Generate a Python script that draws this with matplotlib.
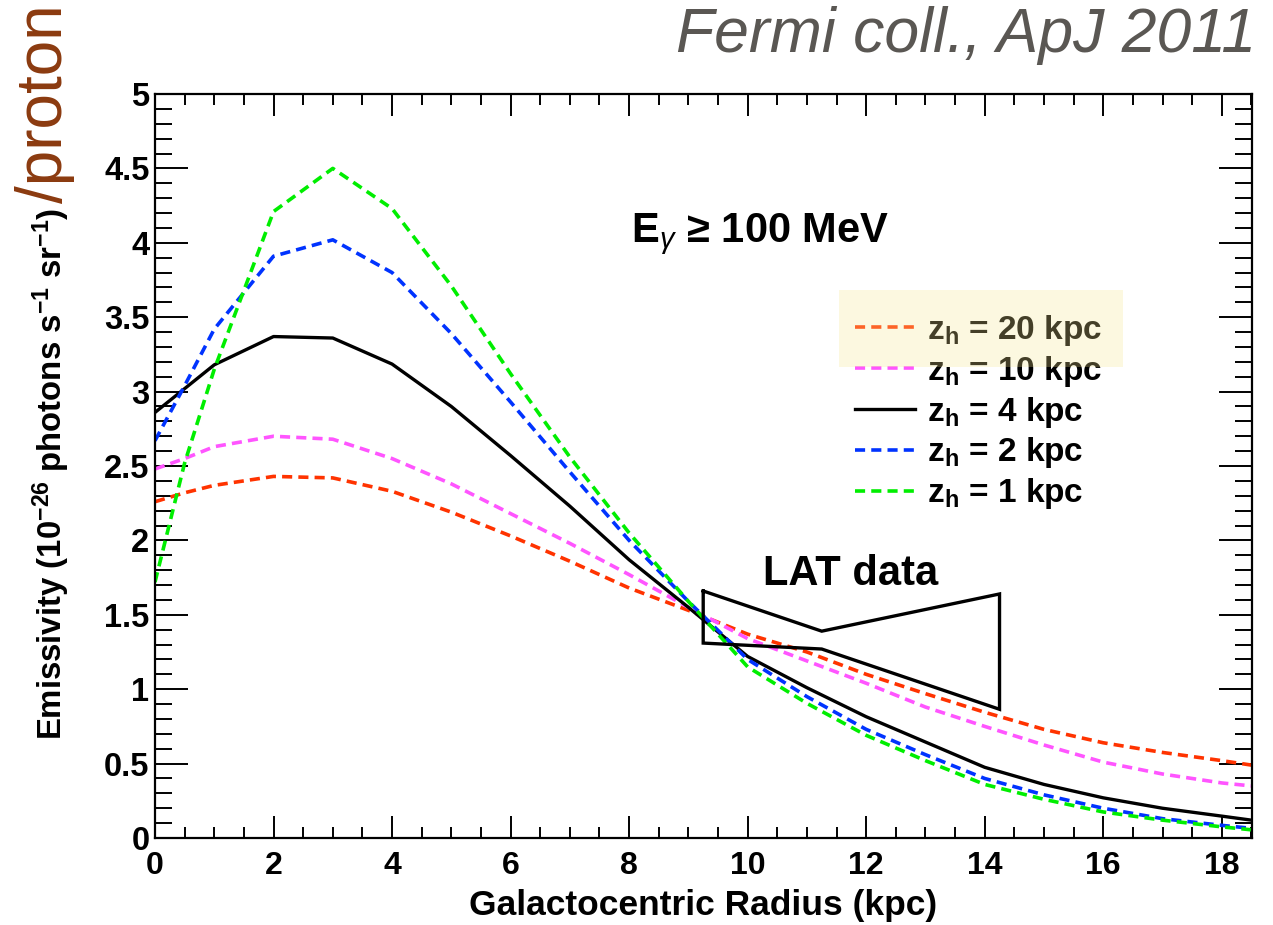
import matplotlib
matplotlib.use('Agg')
import matplotlib.pyplot as plt
from matplotlib.ticker import MultipleLocator, FuncFormatter
from matplotlib.patches import Rectangle

plt.rcParams['font.family'] = ['Liberation Sans', 'DejaVu Sans']
plt.rcParams['mathtext.fontset'] = 'custom'
plt.rcParams['mathtext.rm'] = 'Liberation Sans'
plt.rcParams['mathtext.it'] = 'Liberation Sans:italic'
plt.rcParams['mathtext.bf'] = 'Liberation Sans:bold'

# ---------------- data ----------------
radius = [0, 0.5, 1, 2, 3, 4, 5, 6, 7, 8, 9, 10, 11, 12, 13, 14, 15, 16, 17, 18, 18.5]
emis_z20 = [2.26, 2.32, 2.37, 2.43, 2.42, 2.33, 2.19, 2.03, 1.86, 1.68, 1.53, 1.37, 1.25, 1.10,
            0.97, 0.845, 0.73, 0.64, 0.575, 0.52, 0.49]
emis_z10 = [2.48, 2.55, 2.63, 2.70, 2.68, 2.55, 2.38, 2.18, 1.98, 1.77, 1.55, 1.34, 1.19, 1.04,
            0.88, 0.75, 0.625, 0.51, 0.43, 0.37, 0.35]
emis_z4 = [2.86, 3.02, 3.18, 3.37, 3.36, 3.185, 2.90, 2.57, 2.23, 1.87, 1.55, 1.22, 1.01, 0.815,
           0.645, 0.475, 0.36, 0.27, 0.20, 0.147, 0.12]
emis_z2 = [2.67, 3.04, 3.42, 3.91, 4.02, 3.80, 3.39, 2.93, 2.46, 2.00, 1.59, 1.20, 0.95, 0.73,
           0.56, 0.40, 0.29, 0.20, 0.13, 0.085, 0.065]
emis_z1 = [1.72, 2.52, 3.15, 4.21, 4.50, 4.23, 3.71, 3.12, 2.56, 2.05, 1.59, 1.15, 0.905, 0.69,
           0.52, 0.36, 0.26, 0.175, 0.12, 0.075, 0.055]

series_labels = [r'$\mathbf{z}_\mathbf{h}$ = 20 kpc', r'$\mathbf{z}_\mathbf{h}$ = 10 kpc',
                 r'$\mathbf{z}_\mathbf{h}$ = 4 kpc', r'$\mathbf{z}_\mathbf{h}$ = 2 kpc',
                 r'$\mathbf{z}_\mathbf{h}$ = 1 kpc']
series_values = [emis_z20, emis_z10, emis_z4, emis_z2, emis_z1]
series_colors = ['#FF3300', '#FF55FF', '#000000', '#0033FF', '#00EE00']
series_dashed = [True, True, False, True, True]

# LAT data bow-tie
lat_r = [9.25, 11.25, 14.25, 14.25, 11.25, 9.25, 9.25]
lat_e = [1.66, 1.39, 1.64, 0.865, 1.27, 1.31, 1.66]

x_ticks = [0, 2, 4, 6, 8, 10, 12, 14, 16, 18]
y_ticks = [0, 0.5, 1, 1.5, 2, 2.5, 3, 3.5, 4, 4.5, 5]

# ---------------- figure ----------------
W, H = 1273, 925
fig = plt.figure(figsize=(W / 100, H / 100), dpi=100)


def fx(px):
    return px / W


def fy(py):
    return 1 - py / H


ax = fig.add_axes([fx(155), fy(838), (1252 - 155) / W, (838 - 94) / H])

handles = []
for vals, lab, col, dashed in zip(series_values, series_labels, series_colors, series_dashed):
    if dashed:
        ln, = ax.plot(radius, vals, color=col, lw=2.6, dashes=(2.8, 1.7), label=lab)
    else:
        ln, = ax.plot(radius, vals, color=col, lw=2.4, label=lab)
    handles.append(ln)

ax.plot(lat_r, lat_e, color='k', lw=2.4, solid_joinstyle='miter')

ax.set_xlim(0, 18.51)
ax.set_ylim(0, 5)
ax.set_xticks(x_ticks)
ax.set_yticks(y_ticks)
ax.xaxis.set_minor_locator(MultipleLocator(0.5))
ax.yaxis.set_minor_locator(MultipleLocator(0.1))
ax.xaxis.set_major_formatter(FuncFormatter(lambda v, p: '%g' % v))
ax.yaxis.set_major_formatter(FuncFormatter(lambda v, p: '%g' % v))

for s in ax.spines.values():
    s.set_linewidth(1.6)

ax.tick_params(axis='both', which='both', direction='in', top=True, right=True, width=1.4)
ax.tick_params(axis='x', which='major', length=15.8, pad=9, labelsize=23)
ax.tick_params(axis='x', which='minor', length=7.9)
ax.tick_params(axis='y', which='major', length=23.8, pad=4, labelsize=23.5)
ax.tick_params(axis='y', which='minor', length=12.2)
for lab in ax.get_xticklabels() + ax.get_yticklabels():
    lab.set_fontweight('bold')

# legend
leg = ax.legend(handles=handles, loc='upper left', bbox_to_anchor=(fx(855), fy(313)),
                bbox_transform=fig.transFigure, frameon=False, borderpad=0, borderaxespad=0,
                handlelength=1.8, handletextpad=0.36, labelspacing=0.175,
                prop={'weight': 'bold', 'size': 24})

# highlight box over the first legend entry
fig.add_artist(Rectangle((fx(839), fy(367)), (1123 - 839) / W, (367 - 290) / H,
                         transform=fig.transFigure, facecolor='#F5E690', alpha=0.28,
                         edgecolor='none', zorder=10))

# annotations
fig.text(fx(760), fy(241.7), r'E$_{\gamma}$ ≥ 100 MeV', ha='center', va='baseline',
         fontsize=30, fontweight='bold')
fig.text(fx(851), fy(585), 'LAT data', ha='center', va='baseline', fontsize=30, fontweight='bold')

# title
fig.text(fx(1256), fy(52), 'Fermi coll., ApJ 2011', ha='right', va='baseline', fontsize=45,
         style='italic', color='#5A5753')

# axis labels
fig.text(fx(703), fy(915), 'Galactocentric Radius (kpc)', ha='center', va='baseline',
         fontsize=25.5, fontweight='bold')
fig.text(fx(62), fy(740),
         r'Emissivity (10$^{\mathbf{-26}}$ photons s$^{\mathbf{-1}}$ sr$^{\mathbf{-1}}$)',
         rotation=90, rotation_mode='anchor', ha='left', va='baseline',
         fontsize=23.7, fontweight='bold')
fig.text(fx(62), fy(4), '/proton', rotation=90, rotation_mode='anchor', ha='right',
         va='baseline', fontsize=46, color='#8B3A0F')

fig.savefig('out.png', dpi=100)
